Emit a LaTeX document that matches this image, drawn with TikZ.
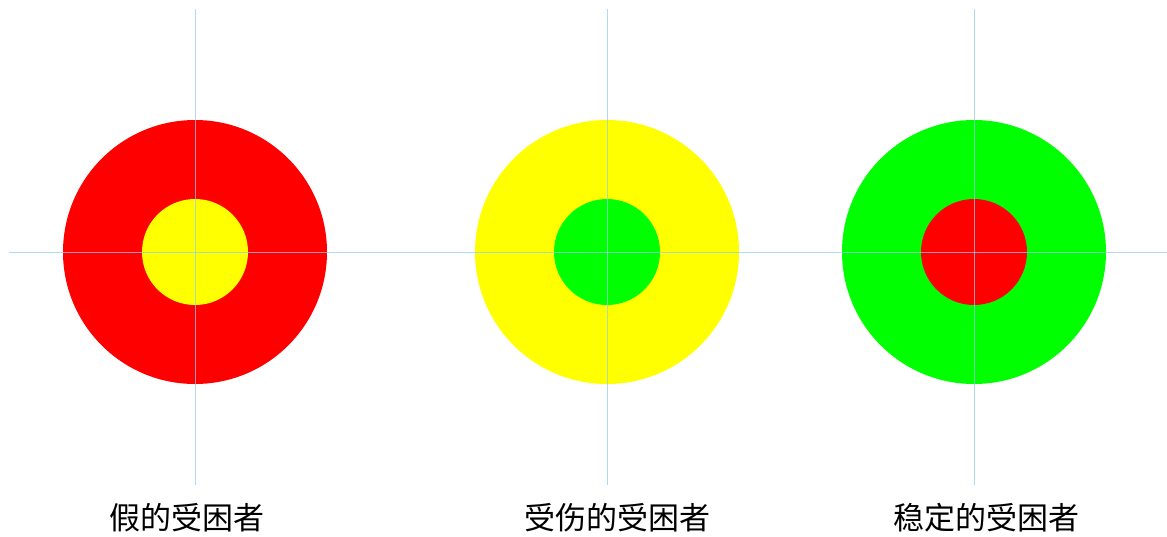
\documentclass[tikz,border=0pt]{standalone}
\usepackage{fontspec}
\newfontfamily\cjk{Noto Sans CJK SC}
\begin{document}
\begin{tikzpicture}[x=1pt,y=-1pt,
  axis/.style={draw={rgb,255:red,150;green,205;blue,235},line width=1pt,opacity=0.75},
  lbl/.style={font=\cjk\fontsize{31}{33}\selectfont,inner sep=0pt}]
\useasboundingbox (0,0) rectangle (1167,536);
\definecolor{rd}{RGB}{255,0,0}
\definecolor{yl}{RGB}{255,255,0}
\definecolor{gr}{RGB}{0,255,0}
% targets
\coordinate (c1) at (195,252);
\coordinate (c2) at (607,252);
\coordinate (c3) at (974,252);
\fill[rd] (c1) circle (132);
\fill[yl] (c1) circle (53);
\fill[yl] (c2) circle (132);
\fill[gr] (c2) circle (53);
\fill[gr] (c3) circle (132);
\fill[rd] (c3) circle (53);
% axes
\coordinate (h0) at (9,252);
\coordinate (h1) at (1167,252);
\draw[axis] (h0) -- (h1);
\coordinate (v1a) at (195,9); \coordinate (v1b) at (195,485);
\coordinate (v2a) at (607,9); \coordinate (v2b) at (607,485);
\coordinate (v3a) at (974,9); \coordinate (v3b) at (974,485);
\draw[axis] (v1a) -- (v1b);
\draw[axis] (v2a) -- (v2b);
\draw[axis] (v3a) -- (v3b);
% labels
\node[lbl] (t1) at (187,518) {假的受困者};
\node[lbl] (t2) at (617,518) {受伤的受困者};
\node[lbl] (t3) at (986,518) {稳定的受困者};
\end{tikzpicture}
\end{document}
